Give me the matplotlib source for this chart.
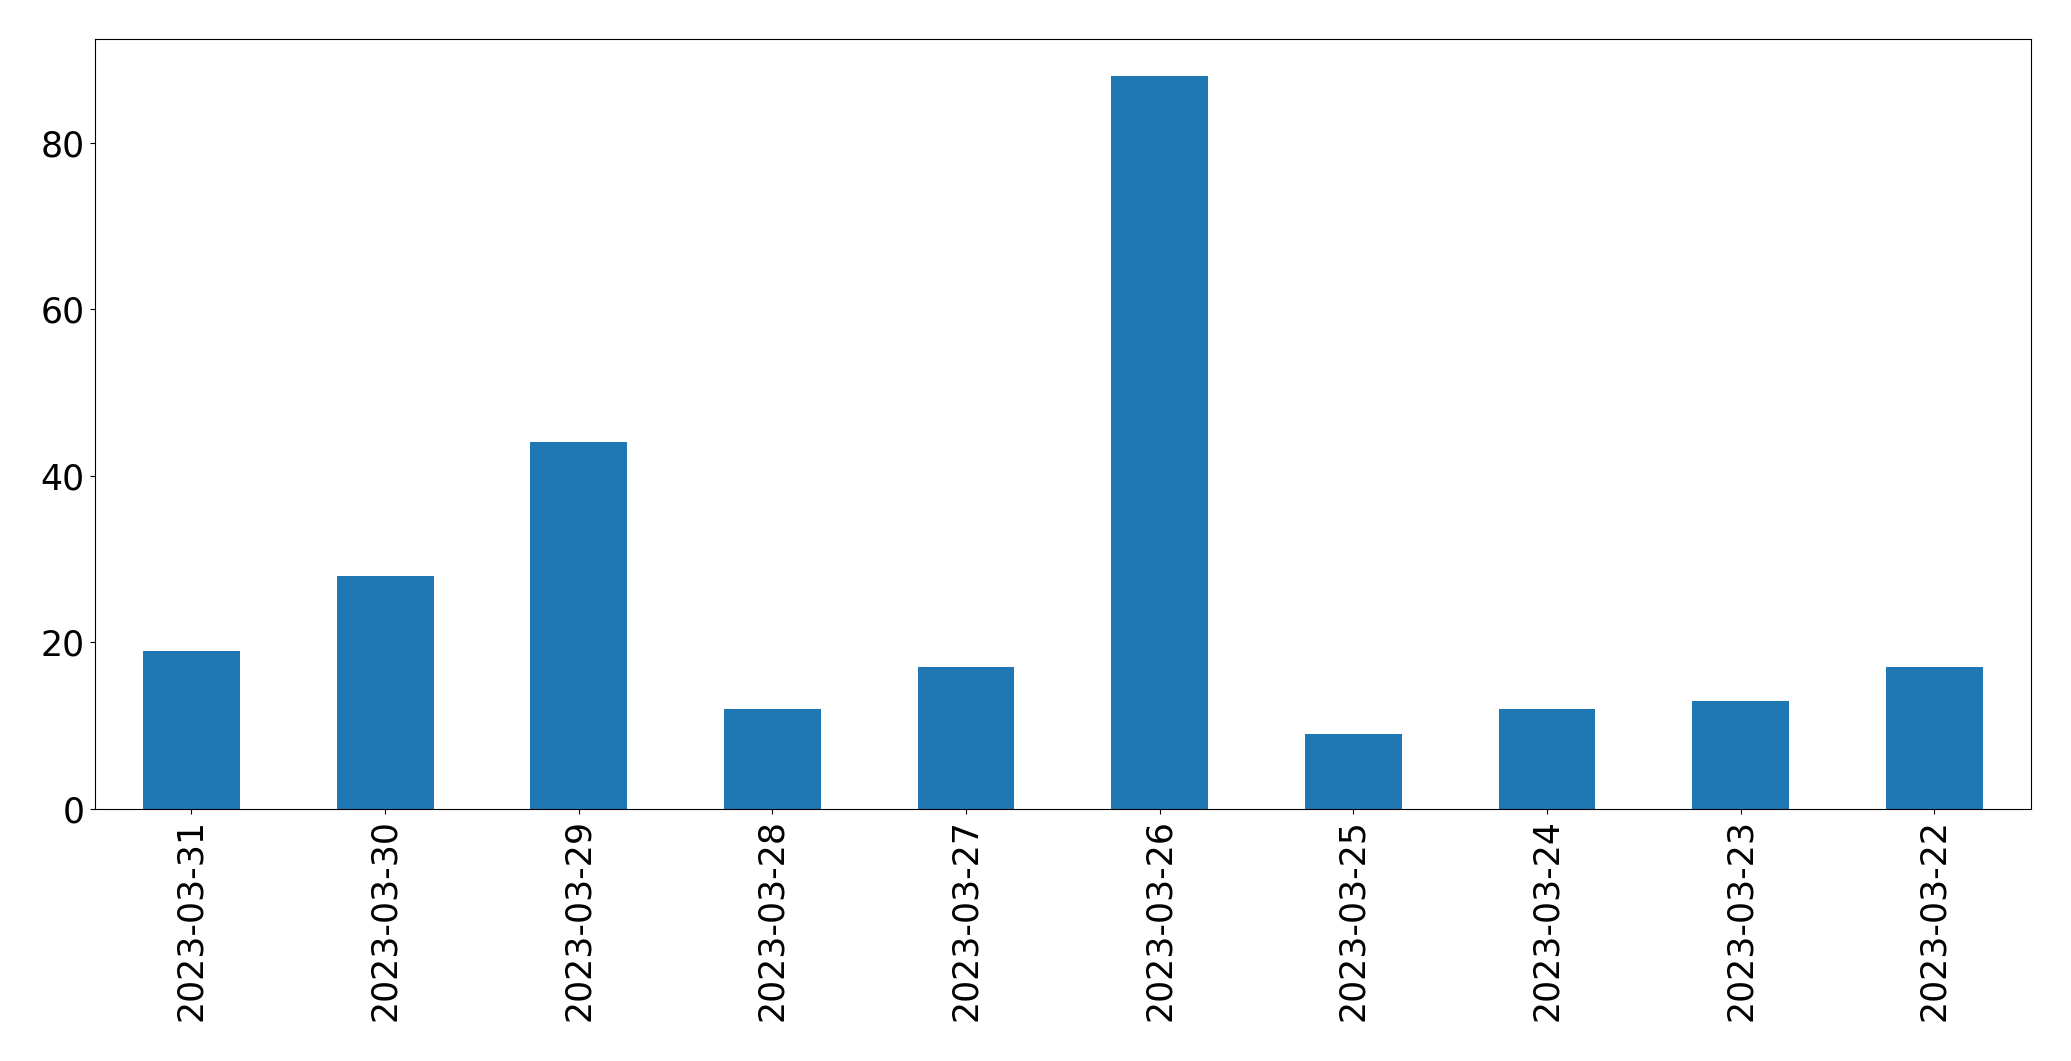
import matplotlib
matplotlib.use("Agg")
import matplotlib.pyplot as plt

dates = ["2023-03-31", "2023-03-30", "2023-03-29", "2023-03-28", "2023-03-27",
         "2023-03-26", "2023-03-25", "2023-03-24", "2023-03-23", "2023-03-22"]
counts = [19, 28, 44, 12, 17, 88, 9, 12, 13, 17]

fig, ax = plt.subplots(figsize=(20.71, 10.61), dpi=100)
fig.subplots_adjust(left=0.0457, right=0.9807, top=0.963, bottom=0.2375)

x = range(len(dates))
ax.bar(x, counts, width=0.5, color="#1f77b4")
ax.set_xlim(-0.5, len(dates) - 0.5)
ax.set_xticks(list(x))
ax.set_xticklabels(dates, rotation=90)
ax.tick_params(labelsize=25)

fig.savefig("out.png", dpi=100)
